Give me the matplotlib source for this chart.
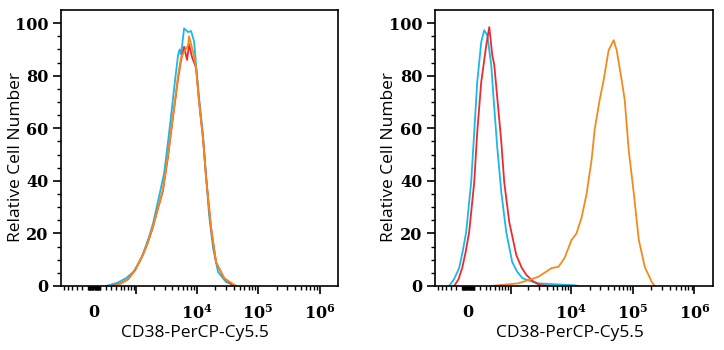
import matplotlib
matplotlib.use("Agg")
import matplotlib.pyplot as plt
import numpy as np

# ---- data (intensity, relative cell number) ----
# left panel
left_cyan_x = [200, 420, 650, 900, 1120, 1300, 1480, 1700, 1940, 2430, 2950, 3420, 3840, 4290,
               4990, 5300, 5580, 6250, 7260, 8120, 9100, 9800, 10970, 12730, 14280, 15950,
               18530, 22360, 30190, 43860]
left_cyan_y = [0, 1.2, 3, 5.5, 9, 12, 15.6, 19.5, 24, 34, 43, 55, 65, 75,
               88, 90, 88, 98, 96.6, 97, 93, 84, 71.5, 57, 42, 27,
               14.4, 5.3, 1.5, 0]

left_red_x = [300, 500, 700, 950, 1250, 1550, 1900, 2300, 2800, 3400, 4100, 4990, 5580, 6250,
              6990, 7530, 8430, 9800, 10970, 12730, 14280, 17200, 20730, 27990, 40000]
left_red_y = [0, 1, 2.5, 6, 11, 16, 22, 29, 36, 49, 64, 79, 86, 91,
              86, 92, 87, 83, 70, 56, 41, 22, 9, 3, 0]

left_orange_x = [330, 520, 740, 1000, 1310, 1600, 1940, 2350, 2830, 3420, 4140, 4990, 5580,
                 6250, 7260, 7530, 8770, 9800, 10970, 12730, 14280, 17200, 20730, 27990,
                 43860]
left_orange_y = [0, 1, 3, 7, 12, 17, 23, 30, 37, 50, 65, 80, 87,
                 89, 91.6, 95, 89, 83, 70, 56, 41, 22, 9, 3,
                 0]

# right panel
right_cyan_x = [-333, -240, -148, -90, -32, 48, 98, 148, 218, 273, 333, 418, 489, 565, 678,
                838, 1071, 1300, 1595, 2200, 3000, 6000, 11400, 13000]
right_cyan_y = [0, 2.5, 6.8, 13, 20.5, 39.5, 58.5, 77.6, 92.8, 97.3, 95.4, 84, 67.7, 52.5,
                35.7, 20.5, 9.1, 5.5, 3, 1.8, 1, 0.6, 0.3, 0]

right_red_x = [-236, -160, -97, -40, 16, 98, 148, 218, 313, 375, 441, 489, 565, 678, 770, 950,
               1260, 1550, 1862, 2400, 3062, 4500]
right_red_y = [0, 2.5, 6.8, 13, 20.5, 39.5, 58.5, 77.6, 91.6, 98.5, 87.8, 84, 71.5, 54.8,
               39.5, 24.3, 11.8, 7, 4.2, 1.8, 0.4, 0]

right_orange_x = [418, 1363, 2946, 4816, 6248, 7826, 10190, 12255, 14790, 17845, 21543, 24080,
                  29068, 33755, 40678, 49106, 54911, 66220, 74175, 86000, 103931, 125388,
                  156950, 203820, 227900]
right_orange_y = [0, 1, 3.5, 6.8, 7.3, 10.6, 17.5, 20, 26, 35, 48, 59.3,
                  70.7, 78.3, 89.7, 93.5, 89.7, 78.3, 70.7, 51.7, 35.4, 17.5,
                  7.2, 1.5, 0]

x_tick_vals = [0, 1e3, 1e4, 1e5, 1e6]
x_tick_labels = ["0", "", r"$\mathbf{10^4}$", r"$\mathbf{10^5}$", r"$\mathbf{10^6}$"]
y_tick_vals = [0, 20, 40, 60, 80, 100]

CYAN = "#1ab8e8"
RED = "#ec2a2f"
ORANGE = "#f28a1e"

plt.rcParams["mathtext.fontset"] = "dejavuserif"


def minor_ticks():
    ticks = []
    for n in range(1, 6):
        for k in range(1, 10):
            ticks.append(k * 10 ** n)
            ticks.append(-k * 10 ** n)
    return [t for t in ticks if -680 < t < 2.0e6 and t not in x_tick_vals]


def style_axes(ax):
    ax.set_xscale("asinh", linear_width=430)
    ax.set_xlim(-680, 2.0e6)
    ax.set_ylim(0, 105)
    ax.set_xticks(x_tick_vals)
    ax.set_xticklabels(x_tick_labels)
    ax.set_xticks(minor_ticks(), minor=True)
    ax.set_yticks(y_tick_vals)
    ax.set_yticks(np.arange(0, 105, 5), minor=True)
    for lab in ax.get_xticklabels() + ax.get_yticklabels():
        lab.set_family("DejaVu Serif")
        lab.set_weight("bold")
        lab.set_fontsize(11.5)
    ax.tick_params(axis="both", which="major", direction="out", length=6, width=1.2)
    ax.tick_params(axis="both", which="minor", direction="out", length=3, width=1.0)
    ax.tick_params(axis="x", which="major", pad=7)
    ax.tick_params(axis="y", which="major", pad=3)
    ax.xaxis.get_major_ticks()[0].tick1line.set_markersize(3)
    for s in ax.spines.values():
        s.set_linewidth(1.2)
    ax.set_xlabel("CD38-PerCP-Cy5.5", family="Open Sans", fontsize=12.5)
    ax.set_ylabel("Relative Cell Number", family="Open Sans", fontsize=12.5)
    ax.xaxis.set_label_coords(0.485, -0.142)
    ax.yaxis.set_label_coords(-0.135, 0.468)


fig = plt.figure(figsize=(7.24, 3.5), dpi=100)
ax1 = fig.add_axes([0.0843, 0.1829, 0.3826, 0.7886])
ax2 = fig.add_axes([0.6008, 0.1829, 0.3840, 0.7886])

ax1.plot(left_cyan_x, left_cyan_y, color=CYAN, lw=1.3)
ax1.plot(left_red_x, left_red_y, color=RED, lw=1.3)
ax1.plot(left_orange_x, left_orange_y, color=ORANGE, lw=1.3)

ax2.plot(right_cyan_x, right_cyan_y, color=CYAN, lw=1.3)
ax2.plot(right_red_x, right_red_y, color=RED, lw=1.3)
ax2.plot(right_orange_x, right_orange_y, color=ORANGE, lw=1.3)

for ax in (ax1, ax2):
    style_axes(ax)

fig.savefig("out.png", dpi=100)
